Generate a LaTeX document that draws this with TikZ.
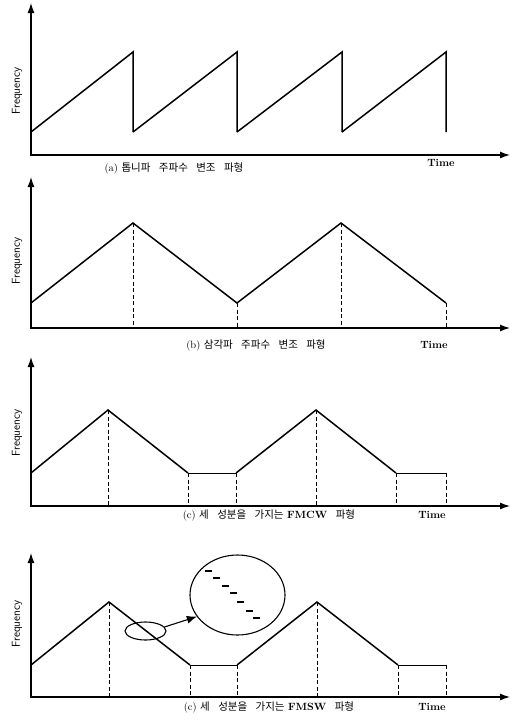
\documentclass[tikz,border=0pt]{standalone}
\usepackage{fontspec}
\usepackage{tikz}
\usetikzlibrary{arrows.meta,shapes.geometric}
\newfontfamily\krfont{Noto Sans CJK KR}
\tikzset{
  axis/.style={{Latex[length=10pt,width=7pt]}-{Latex[length=10pt,width=7pt]},line width=1.2pt},
  wave/.style={line width=1.5pt,line join=miter},
  drop/.style={dash pattern=on 4pt off 2.5pt,line width=0.9pt},
  flat/.style={line width=0.9pt},
  ylab/.style={rotate=90,font=\sffamily\fontsize{11.5}{12}\selectfont},
  tlab/.style={font=\bfseries\fontsize{10.5}{12}\selectfont},
  caplab/.style={font=\fontsize{10.5}{12}\selectfont},
  lens/.style={ellipse,draw,line width=1.1pt,inner sep=0pt},
  pointer/.style={-{Latex[length=10pt,width=8pt]},line width=1.1pt},
}
\newcommand{\gap}{\hspace{0.8em}}

\begin{document}
\begin{tikzpicture}[x=1pt,y=-1pt]
  \path[use as bounding box] (0,0) rectangle (515,721);

  % (a) sawtooth
  \draw[axis] (31,3) -- (31,155) -- (510,155);
  \foreach \x/\xx in {31/133,133/237,237/342,342/446}
    \draw[wave] (\x,132) -- (\xx,52) -- (\xx,132);
  \node[ylab] (fa) at (17,91) {Frequency};
  \node[tlab] (ta) at (441,163) {Time};
  \node[caplab] (ca) at (174,168) {(a) {\krfont 톱니파\gap 주파수\gap 변조\gap 파형}};

  % (b) triangle
  \draw[axis] (31,177) -- (31,328) -- (510,328);
  \draw[wave] (31,303) -- (133,223) -- (237,303) -- (341,223) -- (446,303);
  \foreach \x/\y in {133/223,237/303,341/223,446/303}
    \draw[drop] (\x,\y) -- (\x,328);
  \node[ylab] (fb) at (17,261) {Frequency};
  \node[tlab] (tb) at (434,345) {Time};
  \node[caplab] (cb) at (256,345) {(b) {\krfont 삼각파\gap 주파수\gap 변조\gap 파형}};

  % (c) three-part FMCW
  \draw[axis] (31,357) -- (31,506) -- (510,506);
  \draw[wave] (31,473) -- (108,410) -- (188,473);
  \draw[wave] (236,473) -- (316,410) -- (396,473);
  \draw[flat] (188,473) -- (236,473) (396,473) -- (446,473);
  \foreach \x/\y in {108/410,188/473,236/473,316/410,396/473,446/473}
    \draw[drop] (\x,\y) -- (\x,506);
  \node[ylab] (fc) at (17,433) {Frequency};
  \node[tlab] (tc) at (432,515) {Time};
  \node[caplab] (cc) at (269,515) {(c) {\krfont 세\gap 성분을\gap 가지는} \textbf{FMCW}\gap{\krfont 파형}};

  % (d) three-part FMSW with stepped slope
  \draw[axis] (31,553) -- (31,697) -- (510,697);
  \draw[wave] (31,665) -- (109,602) -- (190,665);
  \draw[wave] (237,665) -- (317,602) -- (398,665);
  \draw[flat] (190,665) -- (237,665) (398,665) -- (446,665);
  \foreach \x/\y in {109/602,190/665,237/665,317/602,398/665,446/665}
    \draw[drop] (\x,\y) -- (\x,697);
  \node[lens,minimum width=41,minimum height=18] (spot) at (145.5,631) {};
  \node[lens,minimum width=95,minimum height=80] (zoom) at (237.5,595) {};
  \draw[pointer] (spot.12) -- (zoom.208);
  \foreach \x/\y in {205/571,213/578,222/586,230/593,237/602,246/611,253/618}
    \draw[line width=1.1pt] (\x,\y) -- ++(7,0);
  \node[ylab] (fd) at (17,624) {Frequency};
  \node[tlab] (td) at (432,707) {Time};
  \node[caplab] (cd) at (269,707) {(c) {\krfont 세\gap 성분을\gap 가지는} \textbf{FMSW}\gap{\krfont 파형}};
\end{tikzpicture}
\end{document}
